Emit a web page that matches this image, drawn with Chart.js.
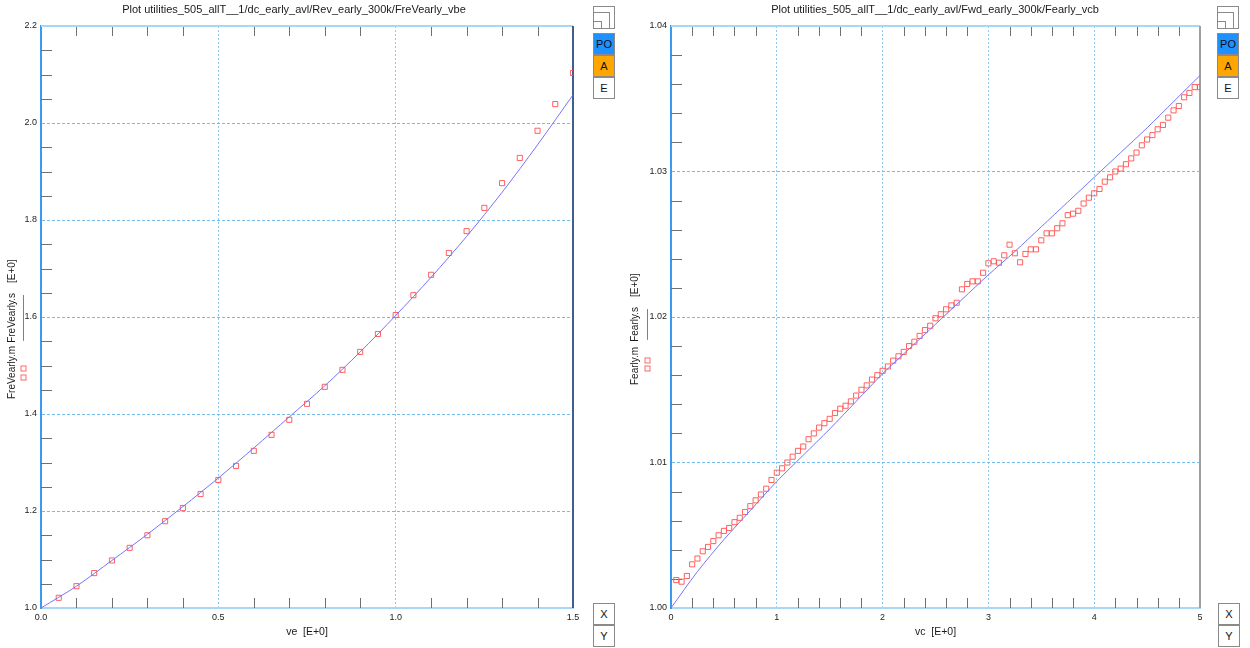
<!DOCTYPE html>
<html>
<head>
<meta charset="utf-8">
<script src="https://cdn.jsdelivr.net/npm/chart.js@4.4.1/dist/chart.umd.min.js"></script>
<style>
  html, body { margin: 0; padding: 0; background: #fff; }
  body { width: 1250px; height: 648px; position: relative; overflow: hidden;
         font-family: "Liberation Sans", Arial, sans-serif; }
  canvas { position: absolute; top: 0; }
  .btn { position: absolute; width: 22px; height: 22px; box-sizing: border-box;
         border: 1px solid #8a8a8a; font-size: 11px; line-height: 20px; text-align: center; color: #111; }
  .po { background: #1e90ff; }
  .a  { background: #ffa500; }
  .e  { background: #fff; }
  .icon { position: absolute; width: 22px; height: 23px; box-sizing: border-box; border: 1px solid #8a8a8a; background: #fff; }
  .icon i { position: absolute; left: -1px; bottom: -1px; box-sizing: border-box; border: 1px solid #8a8a8a; }
</style>
</head>
<body>
<canvas id="rev" width="625" height="648" style="left:0"></canvas>
<canvas id="fwd" width="625" height="648" style="left:625px"></canvas>

<div class="icon" style="left:593px;top:6px"><i style="width:17px;height:17px"></i><i style="width:9px;height:8px"></i></div>
<div class="btn po" style="left:593px;top:33px">PO</div>
<div class="btn a"  style="left:593px;top:55px">A</div>
<div class="btn e"  style="left:593px;top:77px">E</div>
<div class="btn e"  style="left:593px;top:603px">X</div>
<div class="btn e"  style="left:593px;top:625px">Y</div>

<div class="icon" style="left:1217px;top:6px"><i style="width:17px;height:17px"></i><i style="width:9px;height:8px"></i></div>
<div class="btn po" style="left:1217px;top:33px">PO</div>
<div class="btn a"  style="left:1217px;top:55px">A</div>
<div class="btn e"  style="left:1217px;top:77px">E</div>
<div class="btn e"  style="left:1218px;top:603px">X</div>
<div class="btn e"  style="left:1218px;top:625px">Y</div>

<script>
// ---- Reverse Early factor vs ve ----
const revVe = [0.05, 0.10, 0.15, 0.20, 0.25, 0.30, 0.35, 0.40, 0.45, 0.50,
               0.55, 0.60, 0.65, 0.70, 0.75, 0.80, 0.85, 0.90, 0.95, 1.00,
               1.05, 1.10, 1.15, 1.20, 1.25, 1.30, 1.35, 1.40, 1.45, 1.50];
const revMeasured = [1.021, 1.045, 1.072, 1.098, 1.124, 1.150, 1.179, 1.206, 1.235, 1.264,
                     1.293, 1.324, 1.357, 1.388, 1.421, 1.456, 1.491, 1.528, 1.565, 1.604,
                     1.645, 1.687, 1.732, 1.777, 1.825, 1.876, 1.928, 1.984, 2.039, 2.103];
const revSimVe = [0.0, 0.1, 0.2, 0.3, 0.4, 0.5, 0.6, 0.7, 0.8, 0.9, 1.0, 1.1, 1.2, 1.3, 1.4, 1.5];
const revSimulated = [1.000, 1.045, 1.098, 1.152, 1.209, 1.268, 1.330, 1.394, 1.458, 1.528,
                      1.603, 1.682, 1.766, 1.857, 1.955, 2.058];
const revXMajor = [0.0, 0.5, 1.0, 1.5];
const revXMinor = [0.1, 0.2, 0.3, 0.4, 0.6, 0.7, 0.8, 0.9, 1.1, 1.2, 1.3, 1.4];
const revYMajor = [1.0, 1.2, 1.4, 1.6, 1.8, 2.0, 2.2];
const revYMinor = [1.05, 1.1, 1.15, 1.25, 1.3, 1.35, 1.45, 1.5, 1.55, 1.65, 1.7, 1.75,
                   1.85, 1.9, 1.95, 2.05, 2.1, 2.15];

// ---- Forward Early factor vs vc ----
const fwdVc = [0.05, 0.10, 0.15, 0.20, 0.25, 0.30, 0.35, 0.40, 0.45, 0.50,
               0.55, 0.60, 0.65, 0.70, 0.75, 0.80, 0.85, 0.90, 0.95, 1.00,
               1.05, 1.10, 1.15, 1.20, 1.25, 1.30, 1.35, 1.40, 1.45, 1.50,
               1.55, 1.60, 1.65, 1.70, 1.75, 1.80, 1.85, 1.90, 1.95, 2.00,
               2.05, 2.10, 2.15, 2.20, 2.25, 2.30, 2.35, 2.40, 2.45, 2.50,
               2.55, 2.60, 2.65, 2.70, 2.75, 2.80, 2.85, 2.90, 2.95, 3.00,
               3.05, 3.10, 3.15, 3.20, 3.25, 3.30, 3.35, 3.40, 3.45, 3.50,
               3.55, 3.60, 3.65, 3.70, 3.75, 3.80, 3.85, 3.90, 3.95, 4.00,
               4.05, 4.10, 4.15, 4.20, 4.25, 4.30, 4.35, 4.40, 4.45, 4.50,
               4.55, 4.60, 4.65, 4.70, 4.75, 4.80, 4.85, 4.90, 4.95, 5.00];
const fwdMeasured = [1.00192, 1.00181, 1.00220, 1.00300, 1.00340, 1.00390, 1.00420, 1.00460, 1.00500, 1.00530,
                     1.00550, 1.00590, 1.00620, 1.00660, 1.00700, 1.00740, 1.00780, 1.00820, 1.00880, 1.00930,
                     1.00960, 1.01000, 1.01040, 1.01080, 1.01110, 1.01160, 1.01200, 1.01240, 1.01270, 1.01300,
                     1.01340, 1.01370, 1.01390, 1.01420, 1.01460, 1.01500, 1.01530, 1.01570, 1.01600, 1.01630,
                     1.01660, 1.01700, 1.01730, 1.01760, 1.01800, 1.01830, 1.01870, 1.01910, 1.01940, 1.01991,
                     1.02019, 1.02053, 1.02080, 1.02098, 1.02190, 1.02227, 1.02245, 1.02245, 1.02304, 1.02369,
                     1.02383, 1.02373, 1.02424, 1.02497, 1.02438, 1.02376, 1.02433, 1.02465, 1.02465, 1.02527,
                     1.02575, 1.02575, 1.02610, 1.02644, 1.02700, 1.02710, 1.02730, 1.02780, 1.02820, 1.02850,
                     1.02880, 1.02930, 1.02960, 1.03000, 1.03020, 1.03050, 1.03090, 1.03130, 1.03180, 1.03220,
                     1.03250, 1.03290, 1.03320, 1.03370, 1.03420, 1.03450, 1.03510, 1.03540, 1.03580, 1.03580];
const fwdSimVc = [0.0, 0.25, 0.5, 0.75, 1.0, 1.25, 1.5, 1.75, 2.0, 2.25, 2.5,
                  2.75, 3.0, 3.25, 3.5, 3.75, 4.0, 4.25, 4.5, 4.75, 5.0];
const fwdSimulated = [1.0000, 1.0025, 1.0047, 1.0067, 1.0087, 1.0105, 1.0123, 1.0142, 1.0161, 1.0178, 1.0195,
                      1.0212, 1.0229, 1.0245, 1.0262, 1.0279, 1.0296, 1.0313, 1.0330, 1.0348, 1.0366];
const fwdXMajor = [0, 1, 2, 3, 4, 5];
const fwdXMinor = [0.2, 0.4, 0.6, 0.8, 1.2, 1.4, 1.6, 1.8, 2.2, 2.4, 2.6, 2.8,
                   3.2, 3.4, 3.6, 3.8, 4.2, 4.4, 4.6, 4.8];
const fwdYMajor = [1.00, 1.01, 1.02, 1.03, 1.04];
const fwdYMinor = [1.002, 1.004, 1.006, 1.008, 1.012, 1.014, 1.016, 1.018,
                   1.022, 1.024, 1.026, 1.028, 1.032, 1.034, 1.036, 1.038];

const pairs = (xs, ys) => xs.map((x, i) => ({ x: x, y: ys[i] }));
const FONT = '"Liberation Sans", Arial, sans-serif';
const GRID_V = '#8cc8f0';
const GRID_H = '#74bcf0';

// Frame edges, inner minor ticks, panel title and the y-axis caption with its keys
const panelDecor = {
  id: 'panelDecor',
  beforeDatasetsDraw(chart, args, o) {
    const { ctx, chartArea: a, scales: { x, y } } = chart;
    ctx.save();
    ctx.strokeStyle = '#707070';
    ctx.lineWidth = 1;
    ctx.beginPath();
    o.minorX.forEach(v => {
      const px = Math.round(x.getPixelForValue(v)) + 0.5;
      ctx.moveTo(px, a.top); ctx.lineTo(px, a.top + 10);
      ctx.moveTo(px, a.bottom); ctx.lineTo(px, a.bottom - 10);
    });
    o.minorY.forEach(v => {
      const py = Math.round(y.getPixelForValue(v)) + 0.5;
      ctx.moveTo(a.left, py); ctx.lineTo(a.left + 11, py);
    });
    ctx.stroke();
    ctx.lineWidth = 2;
    ctx.strokeStyle = '#a9d6f5';
    ctx.beginPath(); ctx.moveTo(a.left, a.top); ctx.lineTo(a.right, a.top); ctx.stroke();
    ctx.strokeStyle = o.rightEdge;
    ctx.beginPath(); ctx.moveTo(a.right, a.top); ctx.lineTo(a.right, a.bottom); ctx.stroke();
    ctx.restore();
  },
  afterDraw(chart, args, o) {
    const { ctx } = chart;
    ctx.save();
    ctx.fillStyle = '#1a1a1a';
    ctx.font = '11px ' + FONT;
    ctx.textAlign = 'center';
    ctx.textBaseline = 'middle';
    ctx.fillText(o.title, o.titleX, 10);

    // rotated caption: measured name, simulated name, unit
    ctx.font = '10px ' + FONT;
    ctx.translate(o.capX, 0);
    ctx.rotate(-Math.PI / 2);
    ctx.textAlign = 'left';
    let pos = o.capStart;
    const spans = [];
    o.caption.forEach((t, i) => {
      ctx.fillText(t, -pos, 0);
      const w = ctx.measureText(t).width;
      spans.push([pos, pos - w]);
      pos -= w + o.capGaps[i];
    });
    ctx.restore();

    ctx.save();
    // key for the simulated curve
    ctx.strokeStyle = '#7070ff';
    ctx.lineWidth = 1;
    ctx.beginPath();
    ctx.moveTo(o.keyX + 0.5, spans[1][0] - 2);
    ctx.lineTo(o.keyX + 0.5, spans[1][1] + 2);
    ctx.stroke();
    // key for the measured points
    ctx.strokeStyle = '#ff6a6a';
    o.keySquares.forEach(cy => ctx.strokeRect(o.keyX - 2, cy - 2, 5, 5));
    ctx.restore();
  }
};

function panel(id, cfg) {
  return new Chart(document.getElementById(id), {
    type: 'scatter',
    data: {
      datasets: [
        {
          label: cfg.simName,
          data: pairs(cfg.simX, cfg.simY),
          showLine: true,
          borderColor: '#7474ff',
          borderWidth: 1,
          pointRadius: 0,
          tension: 0.3,
          order: 1
        },
        {
          label: cfg.measName,
          data: pairs(cfg.measX, cfg.measY),
          pointStyle: 'rect',
          pointRadius: 3.6,
          pointBorderWidth: 1,
          pointBorderColor: 'rgba(255,80,80,0.9)',
          pointBackgroundColor: 'rgba(0,0,0,0)',
          order: 2
        }
      ]
    },
    options: {
      responsive: false,
      animation: false,
      events: [],
      layout: { padding: { top: 26, right: cfg.padRight, left: 0, bottom: 0 } },
      plugins: {
        legend: { display: false },
        tooltip: { enabled: false },
        panelDecor: cfg.decor
      },
      scales: {
        x: {
          type: 'linear',
          min: cfg.xMajor[0], max: cfg.xMajor[cfg.xMajor.length - 1],
          afterBuildTicks: s => { s.ticks = cfg.xMajor.map(v => ({ value: v })); },
          afterFit: s => { s.height = 40; },
          ticks: {
            autoSkip: false, maxRotation: 0, padding: 4,
            color: '#222', font: { size: 9, family: FONT },
            callback: v => v.toFixed(cfg.xDigits)
          },
          grid: {
            drawTicks: false,
            color: c => (c.index === 0 || c.index === cfg.xMajor.length - 1) ? 'rgba(0,0,0,0)' : GRID_V,
            lineWidth: 1
          },
          border: { display: true, color: '#a9d6f5', width: 2, dash: [2, 2] },
          title: {
            display: true, text: cfg.xTitle, color: '#1a1a1a',
            font: { size: 10.5, family: FONT },
            padding: { top: 0, bottom: 10 }
          }
        },
        y: {
          type: 'linear',
          min: cfg.yMajor[0], max: cfg.yMajor[cfg.yMajor.length - 1],
          afterBuildTicks: s => { s.ticks = cfg.yMajor.map(v => ({ value: v })); },
          afterFit: s => { s.width = cfg.yWidth; },
          ticks: {
            autoSkip: false, padding: 4,
            color: '#222', font: { size: 9, family: FONT },
            callback: v => v.toFixed(cfg.yDigits)
          },
          grid: {
            drawTicks: false,
            color: c => (c.index === 0 || c.index === cfg.yMajor.length - 1) ? 'rgba(0,0,0,0)' : GRID_H,
            lineWidth: 1
          },
          border: { display: true, color: '#3b99ee', width: 2, dash: [3, 2] }
        }
      }
    },
    plugins: [panelDecor]
  });
}

panel('rev', {
  simName: 'FreVearly.s', measName: 'FreVearly.m',
  simX: revSimVe, simY: revSimulated, measX: revVe, measY: revMeasured,
  xMajor: revXMajor, yMajor: revYMajor, xDigits: 1, yDigits: 1,
  xTitle: 've  [E+0]', yWidth: 41, padRight: 52,
  decor: {
    minorX: revXMinor, minorY: revYMinor, rightEdge: '#3f5f8f',
    title: 'Plot utilities_505_allT__1/dc_early_avl/Rev_early_300k/FreVearly_vbe', titleX: 294,
    caption: ['FreVearly.m', 'FreVearly.s', '[E+0]'], capGaps: [3, 10, 0],
    capX: 12, capStart: 399, keyX: 23, keySquares: [368, 377]
  }
});

panel('fwd', {
  simName: 'Fearly.s', measName: 'Fearly.m',
  simX: fwdSimVc, simY: fwdSimulated, measX: fwdVc, measY: fwdMeasured,
  xMajor: fwdXMajor, yMajor: fwdYMajor, xDigits: 0, yDigits: 2,
  xTitle: 'vc  [E+0]', yWidth: 46, padRight: 50,
  decor: {
    minorX: fwdXMinor, minorY: fwdYMinor, rightEdge: '#a0a0a0',
    title: 'Plot utilities_505_allT__1/dc_early_avl/Fwd_early_300k/Fearly_vcb', titleX: 310,
    caption: ['Fearly.m', 'Fearly.s', '[E+0]'], capGaps: [5, 10, 0],
    capX: 10.5, capStart: 385, keyX: 22, keySquares: [360, 368]
  }
});
</script>
</body>
</html>
